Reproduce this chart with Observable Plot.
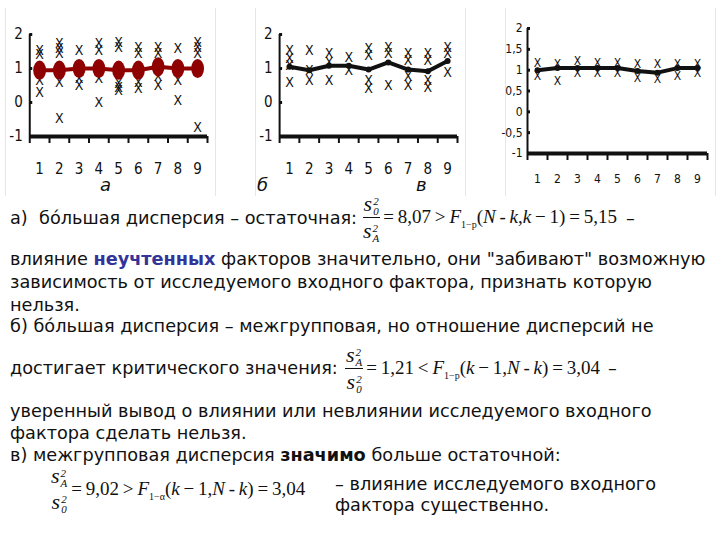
<!DOCTYPE html>
<html><head><meta charset="utf-8">
<script src="https://cdn.jsdelivr.net/npm/d3@7"></script>
<script src="https://cdn.jsdelivr.net/npm/@observablehq/plot@0.6"></script>
<style>
body{margin:0;width:720px;height:540px;position:relative;background:#fff;overflow:hidden;font-family:"DejaVu Sans",Verdana,sans-serif;color:#111;}
.ch{position:absolute;}
.vl{position:absolute;width:1px;background:#e6e6e6;}
.ln{position:absolute;left:10px;font-size:17.7px;white-space:nowrap;line-height:20px;}
.lab{position:absolute;font-family:"DejaVu Sans",sans-serif;font-style:italic;font-size:18px;line-height:18px;}
.fm{position:absolute;font-family:"Liberation Serif","Times New Roman",serif;font-size:19px;white-space:nowrap;display:flex;align-items:center;}
.frac{display:inline-flex;flex-direction:column;align-items:center;margin-right:3px;}
.frac .num{border-bottom:1px solid #111;padding:0 1px 1px 1px;line-height:22px;font-size:22px;}
.frac .den{padding:2px 1px 0 1px;line-height:22px;font-size:22px;}
.ss{display:inline-flex;flex-direction:column;font-size:11px;line-height:10px;vertical-align:middle;font-style:italic;margin-left:1px;}
i{font-style:italic;}
sub{font-size:10px;}
</style></head>
<body>
<div class="vl" style="left:5px;top:8px;height:188px"></div>
<div class="vl" style="left:215px;top:8px;height:188px"></div>
<div class="vl" style="left:255px;top:8px;height:188px"></div>
<div class="vl" style="left:465px;top:8px;height:188px"></div>
<div class="vl" style="left:505px;top:8px;height:188px"></div>
<div class="vl" style="left:715px;top:8px;height:188px"></div>

<div id="ca" class="ch" style="left:0;top:0"></div>
<div id="cb" class="ch" style="left:250px;top:0"></div>
<div id="cc" class="ch" style="left:500px;top:0"></div>

<div class="lab" style="left:100px;top:176px">а</div>
<div class="lab" style="left:257px;top:176px">б</div>
<div class="lab" style="left:416px;top:176px">в</div>

<div class="ln" style="top:208px">а)&nbsp; бóльшая дисперсия – остаточная:</div>
<div class="fm" style="left:362px;top:193px">
  <span class="frac"><span class="num"><i>s</i><span class="ss"><span>2</span><span>0</span></span></span><span class="den"><i>s</i><span class="ss"><span>2</span><span>A</span></span></span></span>
  <span>=&thinsp;8,07&thinsp;&gt;&thinsp;<i>F</i><sub>1−p</sub>(<i>N</i>&thinsp;-&thinsp;<i>k</i>,<i>k</i>&thinsp;−&thinsp;1)&thinsp;=&thinsp;5,15</span>
</div>
<div class="ln" style="left:626px;top:208px">–</div>

<div class="ln" style="top:249px">влияние <b style="color:#333399">неучтенных</b> факторов значительно, они "забивают" возможную</div>
<div class="ln" style="top:272px">зависимость от исследуемого входного фактора, признать которую</div>
<div class="ln" style="top:295px">нельзя.</div>
<div class="ln" style="top:316px">б) бóльшая дисперсия – межгрупповая, но отношение дисперсий не</div>
<div class="ln" style="top:358px">достигает критического значения:</div>
<div class="fm" style="left:345px;top:344px">
  <span class="frac"><span class="num"><i>s</i><span class="ss"><span>2</span><span>A</span></span></span><span class="den"><i>s</i><span class="ss"><span>2</span><span>0</span></span></span></span>
  <span>=&thinsp;1,21&thinsp;&lt;&thinsp;<i>F</i><sub>1−p</sub>(<i>k</i>&thinsp;−&thinsp;1,<i>N</i>&thinsp;-&thinsp;<i>k</i>)&thinsp;=&thinsp;3,04</span>
</div>
<div class="ln" style="left:608px;top:358px">–</div>
<div class="ln" style="top:401px">уверенный вывод о влиянии или невлиянии исследуемого входного</div>
<div class="ln" style="top:423px">фактора сделать нельзя.</div>
<div class="ln" style="top:445px">в) межгрупповая дисперсия <b>значимо</b> больше остаточной:</div>
<div class="fm" style="left:50px;top:465px">
  <span class="frac"><span class="num" style="border:none"><i>s</i><span class="ss"><span>2</span><span>A</span></span></span><span class="den"><i>s</i><span class="ss"><span>2</span><span>0</span></span></span></span>
  <span>=&thinsp;9,02&thinsp;&gt;&thinsp;<i>F</i><sub>1−α</sub>(<i>k</i>&thinsp;−&thinsp;1,<i>N</i>&thinsp;-&thinsp;<i>k</i>)&thinsp;=&thinsp;3,04</span>
</div>
<div class="ln" style="left:335px;top:474px">– влияние исследуемого входного</div>
<div class="ln" style="left:335px;top:495px">фактора существенно.</div>

<script>
// ---- data ----
const groups = [1,2,3,4,5,6,7,8,9];
const boundaries = [0.5,1.5,2.5,3.5,4.5,5.5,6.5,7.5,8.5,9.5];

// chart а
const meansA = [0.95,0.95,1.0,1.0,0.95,0.95,1.05,1.0,1.0];
const obsA = [
  [1.53,1.4,0.65,0.3],
  [1.73,1.58,1.43,0.6,-0.48],
  [1.53,0.7,0.5],
  [1.73,1.53,0.7,0.0],
  [1.77,1.63,0.55,0.45,0.35],
  [1.63,1.43,0.6,0.4],
  [1.63,1.43,0.75,0.5],
  [1.58,0.65,0.06],
  [1.77,1.63,1.43,-0.73]
];
// chart б
const meansB = [1.05,0.95,1.08,1.08,0.97,1.18,0.97,0.92,1.22];
const obsB = [
  [1.53,1.28,1.08,0.6],
  [1.53,0.94,0.65],
  [1.43,1.19,0.65],
  [1.33,0.94],
  [1.58,1.38,0.65,0.4],
  [1.63,1.43,0.5],
  [1.43,1.23,0.75,0.5],
  [1.43,1.23,0.65,0.45],
  [1.63,1.43,0.89]
];
// chart в
const meansC = [1.0,1.05,1.05,1.05,1.05,0.98,0.94,1.05,1.05];
const obsC = [
  [1.18,0.86],[1.14,0.74],[1.22,0.94],[1.18,0.94],[1.18,0.94],
  [1.14,0.82],[1.14,0.78],[1.14,0.86],[1.14,0.94]
];
const yTicksAB = [-1,0,1,2];
const yTicksC = [-1,-0.5,0,0.5,1,1.5,2];

const narrow = '"Liberation Sans Narrow","DejaVu Sans Condensed","Arial Narrow",sans-serif';

function build(o){
  const meanData = groups.map((g,i)=>({g, v:o.means[i]}));
  const obsData = o.obs.flatMap((arr,i)=>arr.map(v=>({g:groups[i], v})));
  return Plot.plot({
    width:o.width, height:o.height,
    marginTop:o.mt, marginBottom:o.mb, marginLeft:o.ml, marginRight:o.mr,
    x:{domain:[0.5,9.5], label:null},
    y:{domain:[-1,2], label:null},
    style:{fontFamily:narrow, background:"transparent", color:"#111", overflow:"visible"},
    marks:[
      Plot.ruleX([0.5],{y1:-1,y2:2,strokeWidth:2,stroke:"#111"}),
      Plot.axisY({ticks:o.yTicks, tickSize:-3, strokeWidth:3, tickPadding:o.yPad, fontSize:o.yFont, tickFormat:o.yFmt}),
      Plot.axisX({ticks:boundaries, tickSize:7, strokeWidth:2, tickFormat:()=>""}),
      Plot.axisX({ticks:groups, tickSize:0, tickPadding:o.xPad, fontSize:o.xFont}),
      Plot.ruleY([-1],{strokeWidth:4, stroke:"#111"}),
      Plot.text(obsData,{x:"g", y:"v", text:()=>"X", fontSize:o.mk, fill:"#111"}),
      Plot.line(meanData,{x:"g", y:"v", stroke:o.color, strokeWidth:o.lw}),
      Plot.dot(meanData,{x:"g", y:"v", r:o.r, fill:o.color, stroke:"none"})
    ]
  });
}
const fmtComma = d => String(d).replace(".", ",");

const a = build({means:meansA, obs:obsA, width:220, height:195, mt:34, mb:59, ml:29.25, mr:13,
  yTicks:yTicksAB, yFmt:fmtComma, yPad:10, yFont:15, xPad:27, xFont:15, mk:14, color:"#8f0000", lw:4, r:8});
d3.select(a).selectAll("circle").each(function(){
  const c=d3.select(this), cx=+c.attr("cx"), cy=+c.attr("cy");
  c.attr("transform",`translate(${cx},${cy}) scale(0.8,1.2) translate(${-cx},${-cy})`);
});
document.getElementById("ca").append(a);

const b = build({means:meansB, obs:obsB, width:220, height:195, mt:34, mb:59, ml:29.1, mr:13,
  yTicks:yTicksAB, yFmt:fmtComma, yPad:10, yFont:15, xPad:27, xFont:15, mk:14, color:"#111", lw:4, r:3});
document.getElementById("cb").append(b);

const c = build({means:meansC, obs:obsC, width:220, height:200, mt:28, mb:47, ml:27, mr:13,
  yTicks:yTicksC, yFmt:fmtComma, yPad:8, yFont:12, xPad:21, xFont:12, mk:12, color:"#111", lw:4, r:3});
document.getElementById("cc").append(c);
</script>
</body></html>
